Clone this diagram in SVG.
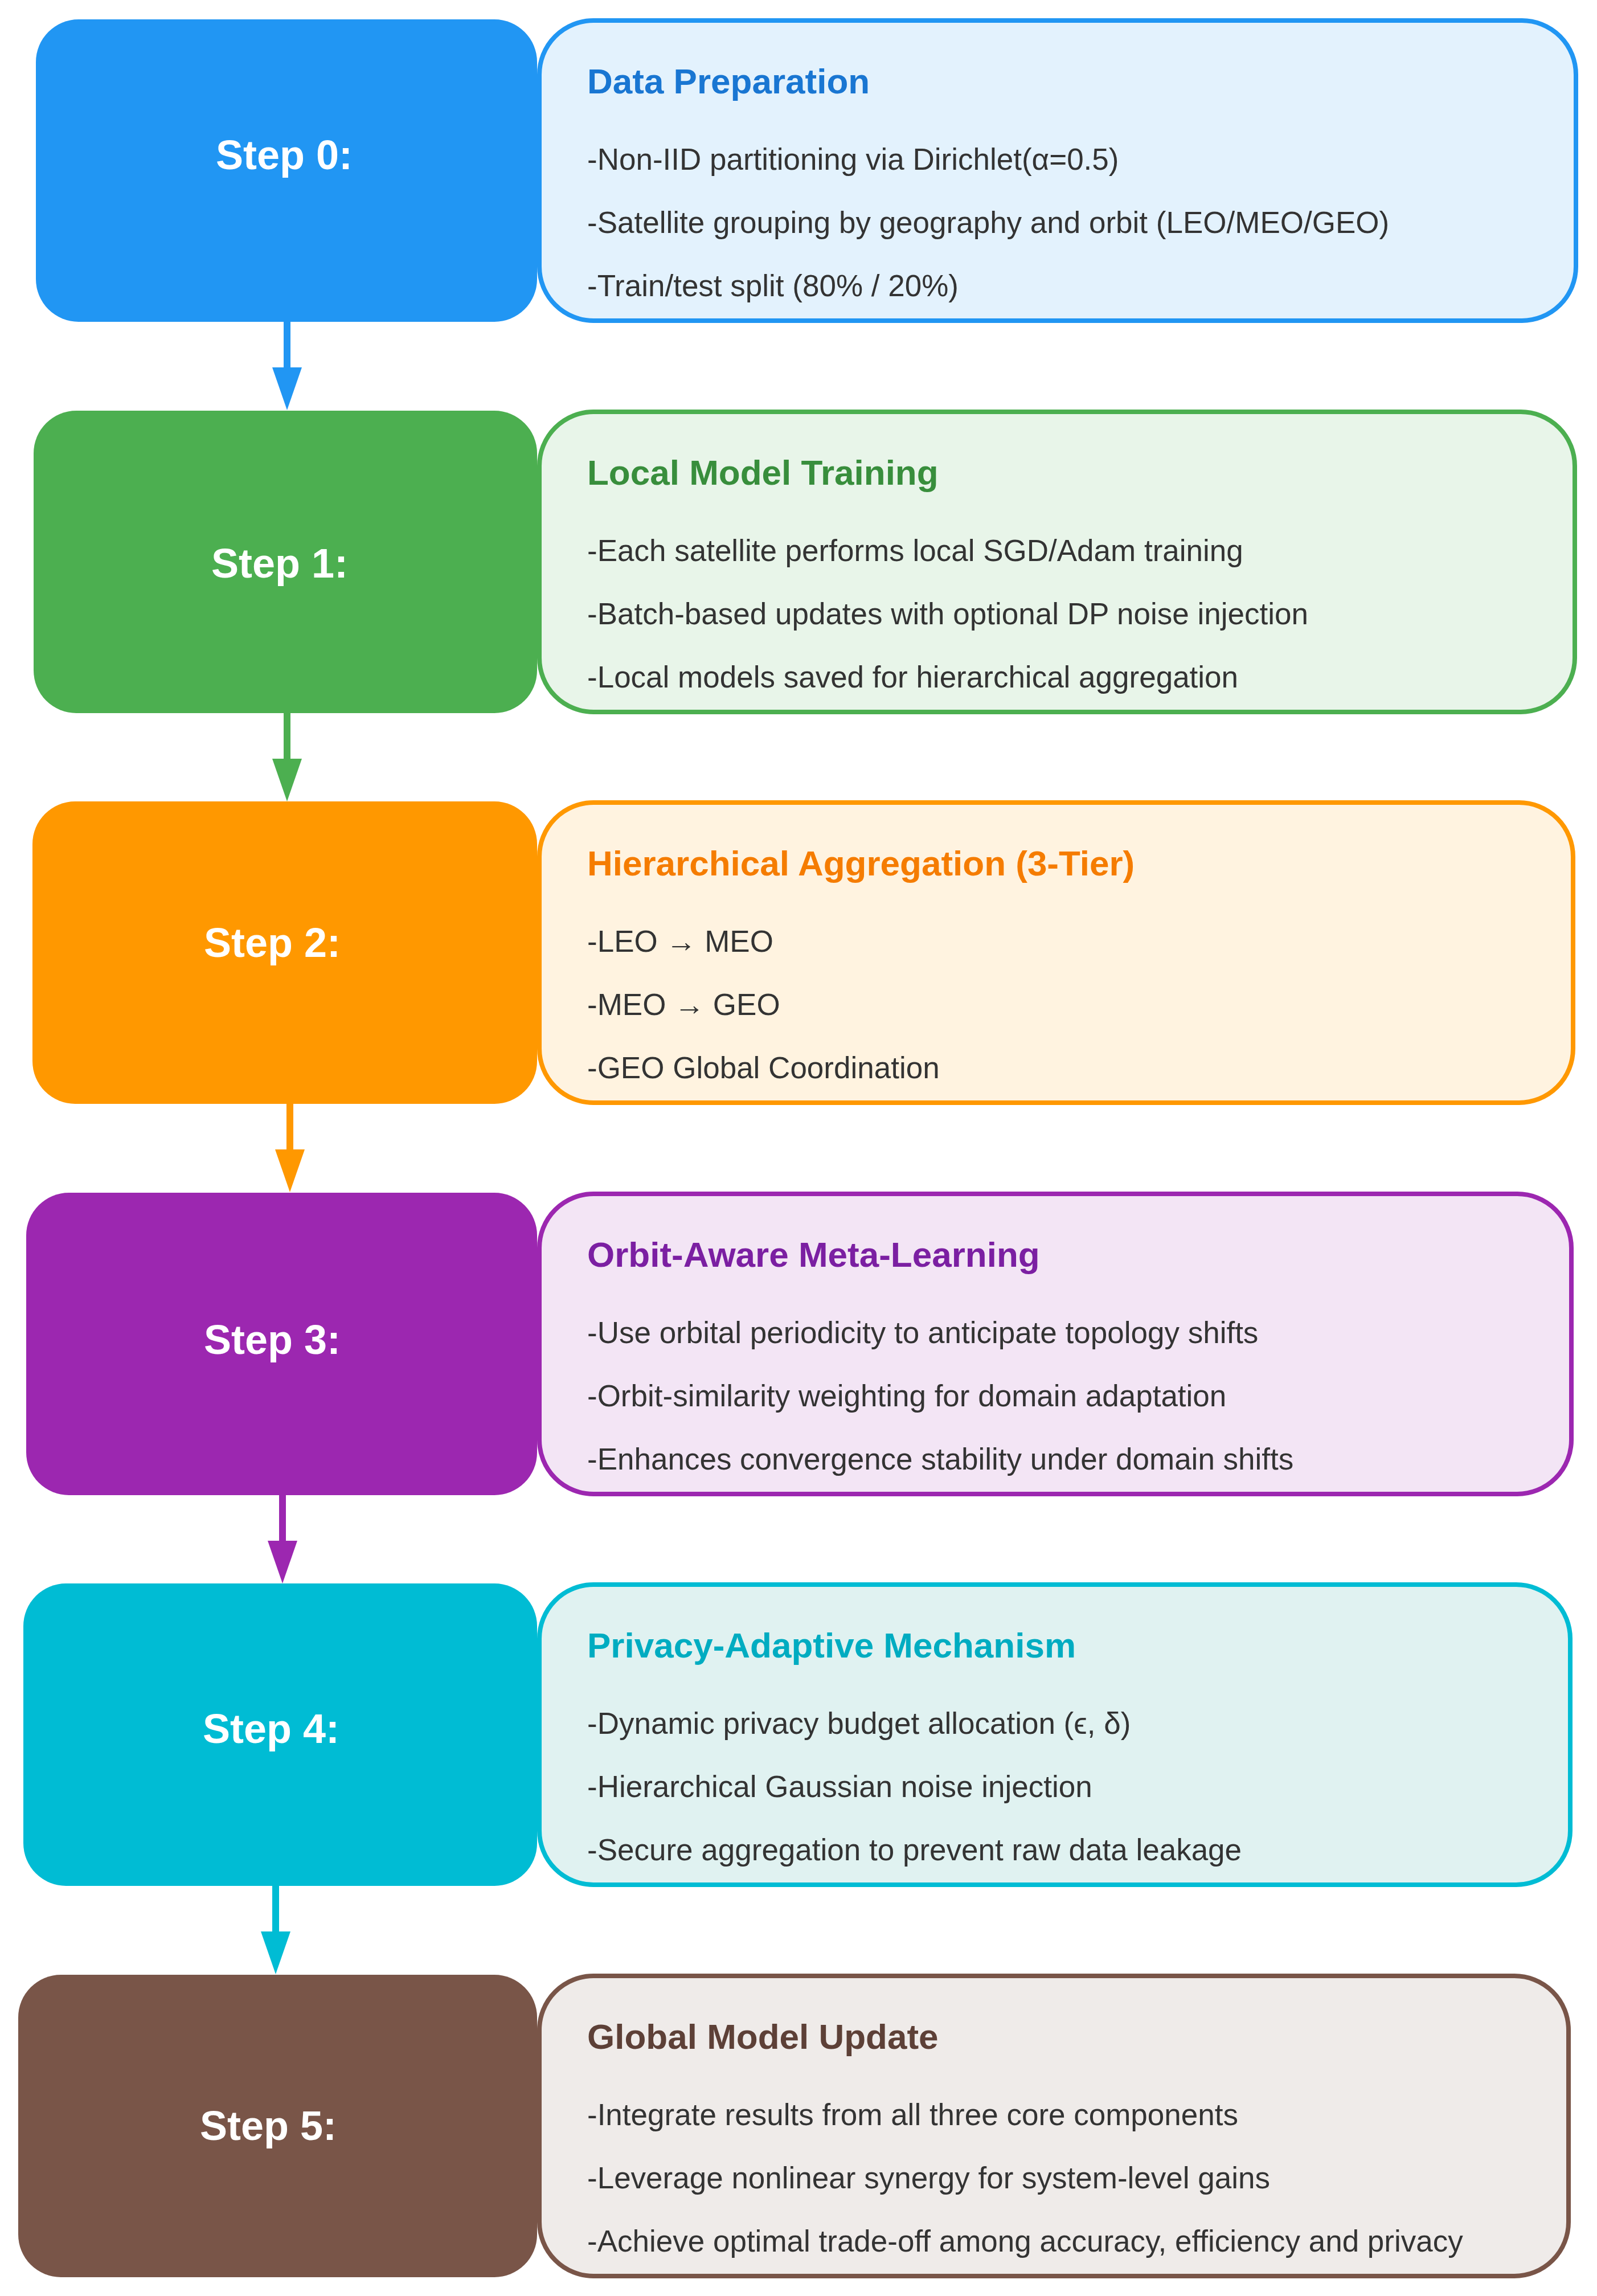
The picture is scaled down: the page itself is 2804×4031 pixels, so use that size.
<svg xmlns="http://www.w3.org/2000/svg" width="2804" height="4031" viewBox="0 0 2804 4031">
<style>
.step{font-family:"Liberation Sans",Arial,sans-serif;font-weight:bold;font-size:72px;fill:#fff;text-anchor:middle}
.ttl{font-family:"Liberation Sans",Arial,sans-serif;font-weight:bold;font-size:62px}
.body{font-family:"Liberation Sans",Arial,sans-serif;font-size:53px;fill:#333}
</style>
<rect width="2804" height="4031" fill="#fff"/>
<g id="connectors" stroke-width="12">
<line x1="504" y1="565" x2="504" y2="650" stroke="#2196F3"/><polygon points="478,645 530,645 504,720" fill="#2196F3"/>
<line x1="504" y1="1252" x2="504" y2="1337" stroke="#4CAF50"/><polygon points="478,1332 530,1332 504,1407" fill="#4CAF50"/>
<line x1="509" y1="1938" x2="509" y2="2023" stroke="#FF9800"/><polygon points="483,2018 535,2018 509,2093" fill="#FF9800"/>
<line x1="496" y1="2625" x2="496" y2="2710" stroke="#9C27B0"/><polygon points="470,2705 522,2705 496,2780" fill="#9C27B0"/>
<line x1="484" y1="3311" x2="484" y2="3396" stroke="#00BCD4"/><polygon points="458,3391 510,3391 484,3466" fill="#00BCD4"/>
</g>
<g id="step0"><rect x="63" y="34" width="880" height="531" rx="75" fill="#2196F3"/><text class="step" x="499" y="297">Step 0:</text></g>
<g id="box0"><rect x="947" y="36" width="1820" height="527" rx="95" fill="#E3F2FD" stroke="#2196F3" stroke-width="8"/>
<text class="ttl" x="1031" y="164" fill="#1976D2">Data Preparation</text>
<text class="body" x="1031" y="298">-Non-IID partitioning via Dirichlet(α=0.5)</text>
<text class="body" x="1031" y="409">-Satellite grouping by geography and orbit (LEO/MEO/GEO)</text>
<text class="body" x="1031" y="520">-Train/test split (80% / 20%)</text></g>
<g id="step1"><rect x="59" y="721" width="884" height="531" rx="75" fill="#4CAF50"/><text class="step" x="491" y="1014">Step 1:</text></g>
<g id="box1"><rect x="947" y="723" width="1818" height="527" rx="95" fill="#E8F5E9" stroke="#4CAF50" stroke-width="8"/>
<text class="ttl" x="1031" y="851" fill="#388E3C">Local Model Training</text>
<text class="body" x="1031" y="985">-Each satellite performs local SGD/Adam training</text>
<text class="body" x="1031" y="1096">-Batch-based updates with optional DP noise injection</text>
<text class="body" x="1031" y="1207">-Local models saved for hierarchical aggregation</text></g>
<g id="step2"><rect x="57" y="1407" width="886" height="531" rx="75" fill="#FF9800"/><text class="step" x="478" y="1680">Step 2:</text></g>
<g id="box2"><rect x="947" y="1409" width="1815" height="527" rx="95" fill="#FFF3E0" stroke="#FF9800" stroke-width="8"/>
<text class="ttl" x="1031" y="1537" fill="#F57C00">Hierarchical Aggregation (3-Tier)</text>
<text class="body" x="1031" y="1671">-LEO → MEO</text>
<text class="body" x="1031" y="1782">-MEO → GEO</text>
<text class="body" x="1031" y="1893">-GEO Global Coordination</text></g>
<g id="step3"><rect x="46" y="2094" width="897" height="531" rx="75" fill="#9C27B0"/><text class="step" x="478" y="2377">Step 3:</text></g>
<g id="box3"><rect x="947" y="2096" width="1812" height="527" rx="95" fill="#F3E5F5" stroke="#9C27B0" stroke-width="8"/>
<text class="ttl" x="1031" y="2224" fill="#7B1FA2">Orbit-Aware Meta-Learning</text>
<text class="body" x="1031" y="2358">-Use orbital periodicity to anticipate topology shifts</text>
<text class="body" x="1031" y="2469">-Orbit-similarity weighting for domain adaptation</text>
<text class="body" x="1031" y="2580">-Enhances convergence stability under domain shifts</text></g>
<g id="step4"><rect x="41" y="2780" width="902" height="531" rx="75" fill="#00BCD4"/><text class="step" x="476" y="3060">Step 4:</text></g>
<g id="box4"><rect x="947" y="2782" width="1810" height="527" rx="95" fill="#E0F2F1" stroke="#00BCD4" stroke-width="8"/>
<text class="ttl" x="1031" y="2910" fill="#00ACC1">Privacy-Adaptive Mechanism</text>
<text class="body" x="1031" y="3044">-Dynamic privacy budget allocation (ϵ, δ)</text>
<text class="body" x="1031" y="3155">-Hierarchical Gaussian noise injection</text>
<text class="body" x="1031" y="3266">-Secure aggregation to prevent raw data leakage</text></g>
<g id="step5"><rect x="32" y="3467" width="911" height="531" rx="75" fill="#795548"/><text class="step" x="471" y="3757">Step 5:</text></g>
<g id="box5"><rect x="947" y="3469" width="1807" height="527" rx="95" fill="#EFEBE9" stroke="#795548" stroke-width="8"/>
<text class="ttl" x="1031" y="3597" fill="#5D4037">Global Model Update</text>
<text class="body" x="1031" y="3731">-Integrate results from all three core components</text>
<text class="body" x="1031" y="3842">-Leverage nonlinear synergy for system-level gains</text>
<text class="body" x="1031" y="3953">-Achieve optimal trade-off among accuracy, efficiency and privacy</text></g>
</svg>
